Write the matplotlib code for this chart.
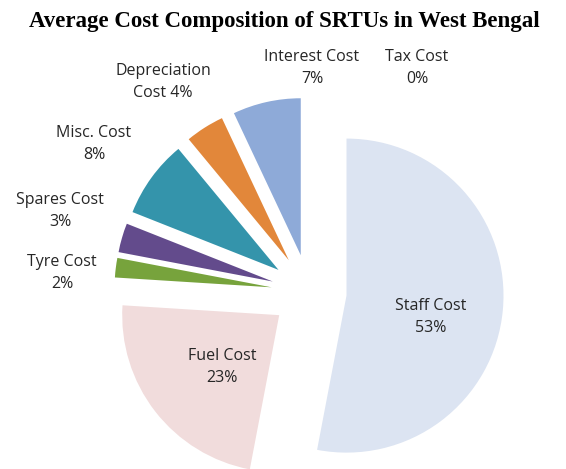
import numpy as np
import matplotlib
matplotlib.use("Agg")
import matplotlib.pyplot as plt

# data
names = ["Staff Cost", "Fuel Cost", "Tyre Cost", "Spares Cost", "Misc. Cost",
         "Depreciation\nCost", "Interest Cost", "Tax Cost"]
shares = [53, 23, 2, 3, 8, 4, 7, 0]
colors = ["#dce4f2", "#f1dcdc", "#77a33c", "#634b8c", "#3494ab",
          "#e2873a", "#8eaad8", "#c0504d"]

# label positions (data units, pie radius = 1)
label_xy = [(0.777, -0.159), (-0.554, -0.478), (-1.573, 0.121), (-1.586, 0.516),
            (-1.369, 0.943), (-0.930, 1.338), (0.019, 1.427), (0.688, 1.427)]

plt.rcParams["font.family"] = ["Open Sans", "DejaVu Sans"]

fig = plt.figure(figsize=(5.66, 4.69), dpi=100)
ax = fig.add_axes([0, 0, 1, 1])

ax.pie(shares, colors=colors, startangle=90, counterclock=False,
       explode=[0.24] * len(shares), radius=1.0, center=(0, 0),
       wedgeprops=dict(linewidth=0))

for name, val, (x, y) in zip(names, shares, label_xy):
    sep = " " if "\n" in name else "\n"
    ax.text(x, y, f"{name}{sep}{val}%", ha="center", va="center",
            fontsize=11.5, color="#262626", linespacing=1.55)

ax.set_xlim(-1.968, 1.637)
ax.set_ylim(-1.127, 1.860)
ax.set_aspect("auto")
ax.axis("off")

fig.text(0.503, 1 - 21 / 469, "Average Cost Composition of SRTUs in West Bengal",
         ha="center", va="center", fontsize=16.5, fontweight="bold",
         family="Liberation Serif")

fig.savefig("out.png", dpi=100)
